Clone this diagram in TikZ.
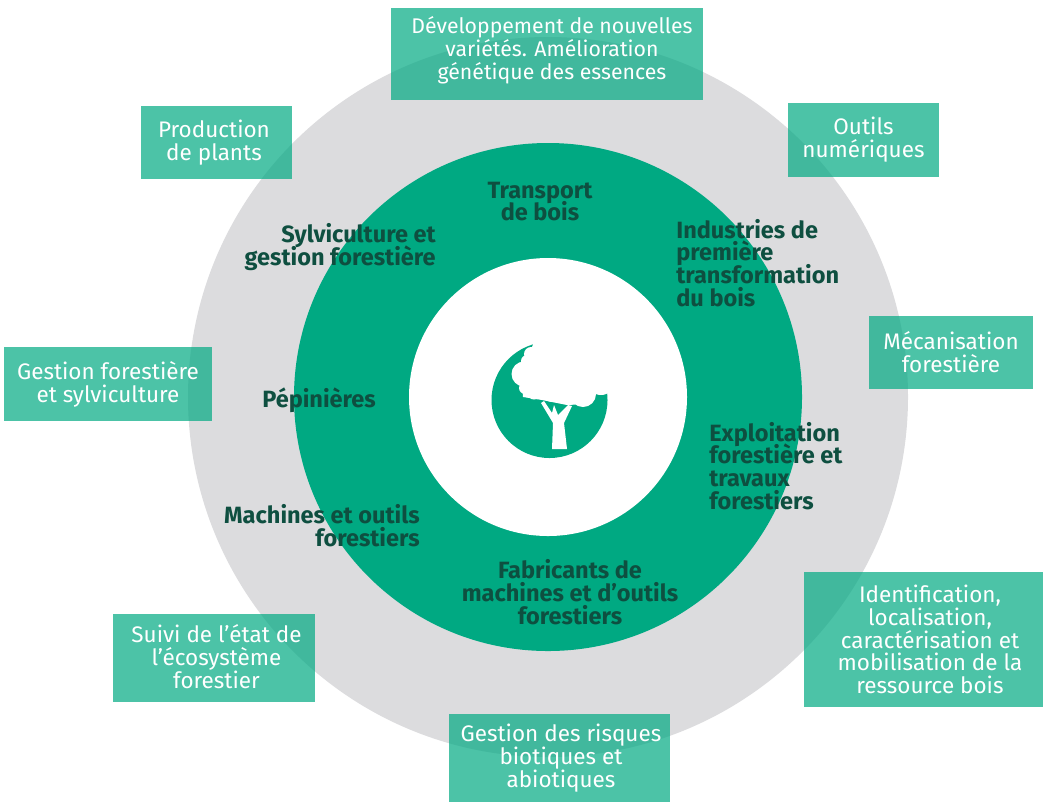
\documentclass[tikz,border=0pt]{standalone}
\usepackage{fontspec}
\setmainfont{Fira Sans}
\lineskiplimit=-6pt
\definecolor{ringgray}{HTML}{DCDCDE}
\definecolor{ringgreen}{HTML}{00A982}
\definecolor{labgreen}{HTML}{0E4F40}
\tikzset{
  themefill/.style={fill=ringgreen, fill opacity=0.7, inner sep=0pt},
  themetxt/.style={text=white, inner sep=0pt, align=center, font=\fontsize{12.8}{13}\selectfont},
  themebox/.style={themefill, themetxt, text opacity=1},
  seclab/.style={text=labgreen, inner sep=0pt, font=\fontsize{13.4}{13}\selectfont\bfseries},
  lobe/.style={fill=white}
}
\begin{document}
\begin{tikzpicture}[x=.02cm,y=-.02cm]
\useasboundingbox (0,0) rectangle (1043,802);
\fill[ringgray] (548,397) circle (360);
\fill[ringgreen] (548,397) circle (254);
\fill[white] (548,397) circle (139);
% tree
\fill[ringgreen] (549.5,400) circle (58);
\fill[white] (537,335) -- (532,347) -- (526,352) -- (522,375) -- (523,397) -- (542,400) -- (567,405) -- (583,404) -- (600,390) -- (612,392) -- (625,340) -- (570,325) -- cycle;
\fill[lobe] (531,354) circle (7);
\fill[lobe] (527,361) circle (6);
\fill[lobe] (524,374) circle (12.5);
\fill[lobe] (525,388) circle (6);
\fill[lobe] (534,393) circle (6.5);
\fill[lobe] (552,394) circle (8);
\fill[lobe] (570,398) circle (7);
\fill[lobe] (583,394) circle (13);
\fill[lobe] (601,381) circle (14);
\fill[white] (552,449) -- (567,449) -- (564,423) -- (572,406) -- (568,405) -- (558,415) -- (554,405) -- (552,413) -- (544,401) -- (541,403) -- (553,423) -- cycle;
% theme boxes
\node[themefill, minimum width=6.24cm, minimum height=1.84cm] (box0) at (547,54) {};
\node[themetxt, font=\fontsize{12.1}{13}\selectfont] (txt0) at (552,50) {Développement de nouvelles\\variétés. Amélioration\\génétique des essences};
\node[themebox, minimum width=3.02cm, minimum height=1.46cm] (box1) at (216.5,142.5) {};
\node[themetxt] (txt1) at (214,143) {Production\\de plants};
\node[themebox, minimum width=3.02cm, minimum height=1.48cm] (box2) at (863.5,140) {Outils\\numériques};
\node[themebox, minimum width=3.28cm, minimum height=1.46cm] (box3) at (951,352) {Mécanisation\\forestière};
\node[themebox, minimum width=4.16cm, minimum height=1.48cm] (box4) at (108,384) {Gestion forestière\\et sylviculture};
\node[themefill, minimum width=4.78cm, minimum height=2.7cm] (box5) at (923.5,639.5) {};
\node[themetxt] (txt5) at (930,639.5) {Identification,\\localisation,\\caractérisation et\\mobilisation de la\\ressource bois};
\node[themebox, minimum width=4.04cm, minimum height=1.76cm] (box6) at (214,658) {};
\node[themetxt] (txt6) at (216.5,656.5) {Suivi de l’état de\\l’écosystème\\forestier};
\node[themebox, minimum width=4.42cm, minimum height=1.76cm] (box7) at (559.5,758) {};
\node[themetxt] (txt7) at (561,758) {Gestion des risques\\biotiques et\\abiotiques};
% sector labels
\node[seclab, align=center] (lab0) at (540,201.5) {Transport\\de bois};
\node[seclab, align=right, anchor=east] (lab1) at (436,247) {Sylviculture et\\gestion forestière};
\node[seclab, align=left, anchor=west] (lab2) at (676,263) {Industries de\\première\\transformation\\du bois};
\node[seclab, align=left, anchor=west] (lab3) at (262,400) {Pépinières};
\node[seclab, align=left, anchor=west] (lab4) at (709,466) {Exploitation\\forestière et\\travaux\\forestiers};
\node[seclab, align=right, anchor=east] (lab5) at (420,526) {Machines et outils\\forestiers};
\node[seclab, align=center] (lab6) at (570,592) {Fabricants de\\machines et d’outils\\forestiers};
\end{tikzpicture}
\end{document}
